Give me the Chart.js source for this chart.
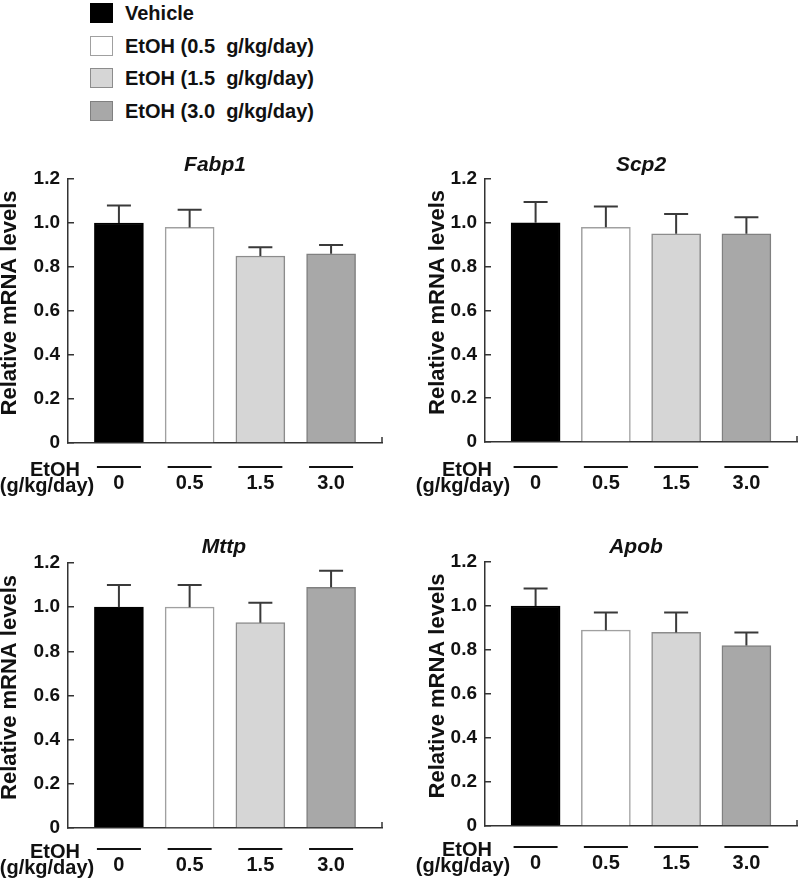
<!DOCTYPE html>
<html>
<head>
<meta charset="utf-8">
<script src="https://cdn.jsdelivr.net/npm/chart.js@4.4.0/dist/chart.umd.min.js"></script>
<style>
  body { margin: 0; background: #fff; }
  #fig { position: relative; width: 800px; height: 885px; font-family: 'Liberation Sans', Arial, sans-serif; font-weight: bold; color: #111; }
  .leg { position: absolute; left: 90px; height: 20px; display: flex; align-items: center; font-size: 20px; white-space: pre; }
  .leg .box { width: 23px; height: 20px; box-sizing: border-box; border: 1.5px solid #888; margin-right: 12px; }
  canvas { position: absolute; }
</style>
</head>
<body>
<div id="fig">
  <div id="legend"></div>
  <canvas id="c1" width="400" height="370" style="left:0px;top:130px"></canvas>
  <canvas id="c2" width="400" height="370" style="left:400px;top:130px"></canvas>
  <canvas id="c3" width="400" height="375" style="left:0px;top:510px"></canvas>
  <canvas id="c4" width="400" height="375" style="left:400px;top:510px"></canvas>
</div>
<script>
// data
const groups = ['Vehicle', 'EtOH (0.5  g/kg/day)', 'EtOH (1.5  g/kg/day)', 'EtOH (3.0  g/kg/day)'];
const doses = ['0', '0.5', '1.5', '3.0'];

const fabp1 = [1.00, 0.98, 0.85, 0.86];
const fabp1Err = [0.08, 0.08, 0.04, 0.04];
const scp2 = [1.00, 0.98, 0.95, 0.95];
const scp2Err = [0.095, 0.095, 0.09, 0.075];
const mttp = [1.00, 1.00, 0.93, 1.09];
const mttpErr = [0.10, 0.10, 0.09, 0.075];
const apob = [1.00, 0.89, 0.88, 0.82];
const apobErr = [0.08, 0.08, 0.09, 0.06];

const barFill = ['#000000', '#ffffff', '#d6d6d6', '#a8a8a8'];
const barEdge = ['#000000', '#a0a0a0', '#8c8c8c', '#808080'];
const FONT = "'Liberation Sans', Arial, sans-serif";

// legend
var legend = document.getElementById('legend');
var legTops = [3, 36, 68, 101];
groups.forEach(function (g, i) {
  var row = document.createElement('div');
  row.className = 'leg';
  row.style.top = legTops[i] + 'px';
  row.innerHTML = '<span class="box" style="background:' + barFill[i] + ';border-color:' + barEdge[i] + '"></span>' + g;
  legend.appendChild(row);
});

// page positions of each panel (absolute px)
const panels = [
  { id: 'c1', gene: 'Fabp1', values: fabp1, err: fabp1Err, box: [0, 130, 400, 370], area: [68, 179, 382, 443], title: [215, 165], ylab: 10, etoh: [55, 47], sub: 0 },
  { id: 'c2', gene: 'Scp2', values: scp2, err: scp2Err, box: [400, 130, 400, 370], area: [485, 179, 797, 442], title: [641, 165], ylab: 438, etoh: [467, 463], sub: 1 },
  { id: 'c3', gene: 'Mttp', values: mttp, err: mttpErr, box: [0, 510, 400, 375], area: [68, 563, 382, 828], title: [224, 547], ylab: 10, etoh: [55, 47], sub: -3 },
  { id: 'c4', gene: 'Apob', values: apob, err: apobErr, box: [400, 510, 400, 375], area: [485, 562, 797, 826], title: [636, 547], ylab: 438, etoh: [467, 463], sub: -3 }
];

const panelDecor = {
  id: 'panelDecor',
  afterDatasetsDraw(chart, args, opts) {
    const p = opts.panel, ctx = chart.ctx;
    const y = chart.scales.y;
    const meta = chart.getDatasetMeta(0);
    ctx.save();
    ctx.strokeStyle = '#3a3a3a';
    ctx.lineWidth = 2;
    meta.data.forEach(function (bar, i) {
      const top = y.getPixelForValue(p.values[i] + p.err[i]);
      ctx.beginPath();
      ctx.moveTo(bar.x, bar.y);
      ctx.lineTo(bar.x, top);
      ctx.moveTo(bar.x - 12, top);
      ctx.lineTo(bar.x + 12, top);
      ctx.stroke();
    });
    ctx.restore();
  },
  afterDraw(chart, args, opts) {
    const p = opts.panel, ctx = chart.ctx;
    const ca = chart.chartArea;
    const ox = p.box[0], oy = p.box[1];
    const meta = chart.getDatasetMeta(0);
    ctx.save();
    // right end tick of x axis
    ctx.strokeStyle = '#333';
    ctx.lineWidth = 1.5;
    ctx.beginPath();
    ctx.moveTo(ca.right, ca.bottom);
    ctx.lineTo(ca.right, ca.bottom - 6);
    ctx.stroke();
    // lines over dose labels
    ctx.strokeStyle = '#111';
    ctx.lineWidth = 2;
    meta.data.forEach(function (bar) {
      ctx.beginPath();
      ctx.moveTo(bar.x - 22, ca.bottom + 24 + p.sub);
      ctx.lineTo(bar.x + 22, ca.bottom + 24 + p.sub);
      ctx.stroke();
    });
    ctx.fillStyle = '#111';
    ctx.textAlign = 'center';
    ctx.textBaseline = 'middle';
    ctx.font = 'bold 20px ' + FONT;
    ctx.fillText('EtOH', p.etoh[0] - ox, ca.bottom + 27 + p.sub);
    ctx.fillText('(g/kg/day)', p.etoh[1] - ox, ca.bottom + 43 + p.sub);
    // gene name
    ctx.font = 'italic bold 21px ' + FONT;
    ctx.fillText(p.gene, p.title[0] - ox, p.title[1] - oy);
    // y axis label
    ctx.font = 'bold 22px ' + FONT;
    ctx.translate(p.ylab - ox, (ca.top + ca.bottom) / 2 - 8);
    ctx.rotate(-Math.PI / 2);
    ctx.fillText('Relative mRNA levels', 0, 0);
    ctx.restore();
  }
};

panels.forEach(function (p) {
  const boxH = p.box[3];
  new Chart(document.getElementById(p.id), {
    type: 'bar',
    data: {
      labels: doses.map(function (d, i) { return i; }),
      datasets: [{
        data: p.values,
        backgroundColor: barFill,
        borderColor: barEdge,
        borderWidth: 1.5,
        barThickness: 49
      }]
    },
    options: {
      responsive: false,
      animation: false,
      layout: {
        padding: { left: 0, top: p.area[1] - p.box[1], right: p.box[0] + p.box[2] - p.area[2], bottom: 0 }
      },
      plugins: {
        legend: { display: false },
        tooltip: { enabled: false },
        title: { display: false },
        panelDecor: { panel: p }
      },
      scales: {
        x: {
          type: 'linear',
          offset: false,
          min: -0.72,
          max: 3.72,
          grid: { display: false, drawTicks: false, offset: false },
          border: { color: '#333', width: 1.5 },
          afterBuildTicks: function (s) { s.ticks = doses.map(function (d, i) { return { value: i }; }); },
          afterFit: function (s) { s.height = boxH - (p.area[3] - p.box[1]); },
          ticks: {
            padding: 28 + p.sub,
            color: '#111',
            autoSkip: false,
            maxRotation: 0,
            font: { family: FONT, size: 20, weight: 'bold' },
            callback: function (v) { return doses[v]; }
          }
        },
        y: {
          min: 0,
          max: 1.2,
          grid: { drawOnChartArea: false, tickLength: -6, color: '#333', lineWidth: 1.5 },
          border: { color: '#333', width: 1.5 },
          afterFit: function (s) { s.width = p.area[0] - p.box[0]; },
          ticks: {
            stepSize: 0.2,
            padding: 14,
            color: '#111',
            font: { family: FONT, size: 19, weight: 'bold' },
            callback: function (v) { return v === 0 ? '0' : v.toFixed(1); }
          }
        }
      }
    },
    plugins: [panelDecor]
  });
});
</script>
</body>
</html>
